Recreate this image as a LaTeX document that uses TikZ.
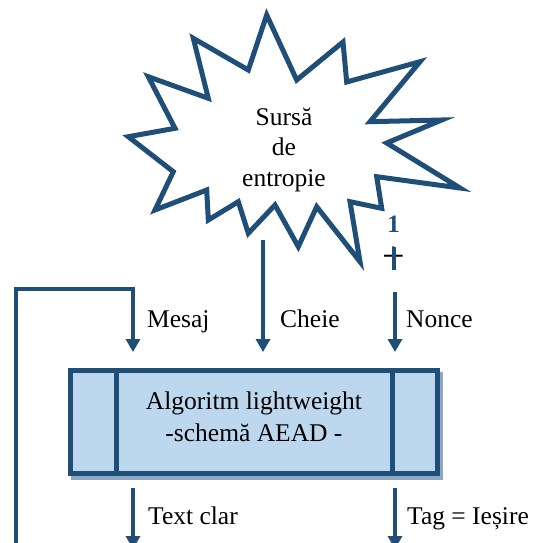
\documentclass[tikz,border=0pt]{standalone}
\usepackage{fontspec}
\setmainfont{Liberation Serif}
\usetikzlibrary{arrows.meta,positioning}
\definecolor{BleuFonce}{RGB}{31,78,121}
\definecolor{BleuClair}{RGB}{189,215,238}
\definecolor{Ombre}{RGB}{143,168,194}

\begin{document}
\begin{tikzpicture}[x=1pt,y=-1pt]
  \tikzset{FlecheStyle/.style = {draw           = BleuFonce,
                                 line width     = 4pt,
                                 line join      = miter,
                                 -{Triangle[width=14pt,length=13pt]}},
           TexteStyle/.style  = {font           = \fontsize{25.5}{31}\selectfont,
                                 inner sep      = 0pt,
                                 anchor         = base west}}
  \useasboundingbox (0,0) rectangle (537,543);
	%%% SOURCE D'ENTROPIE %%%
	\draw[BleuFonce, line width=5pt, line join=miter, fill=white]
	  (266.7,15) -- (296.7,80) -- (343,42) -- (346.7,82) -- (420,61.7)
	  -- (370,121.7) -- (441.7,120) -- (386.7,143) -- (460,188)
	  -- (376.7,176.7) -- (381.7,208.3) -- (350,201.7) -- (360,261.7)
	  -- (316.7,206.7) -- (298.3,246.7) -- (275,205) -- (248.3,233.3)
	  -- (238.3,201.7) -- (208.3,220) -- (206.7,190) -- (155,210)
	  -- (173.3,171.7) -- (128.3,136.7) -- (175,128.3) -- (148.3,76.7)
	  -- (208.3,98.3) -- (193.3,38.3) -- (248.3,70) -- cycle;
	\node[align=center, font=\fontsize{25.5}{30.5}\selectfont, inner sep=0pt](src) at (284,150){Sursă\\de\\entropie};
	%%% COMPTEUR %%%
	\node[text=BleuFonce, font=\bfseries\fontsize{25}{25}\selectfont, inner sep=0pt](un) at (393.5,224){1};
	\node[font=\fontsize{40}{40}\selectfont, inner sep=0pt](plus) at (394,258.5){+};
	\draw[BleuFonce, line width=4pt] (393.5,247) -- (393.5,270);
	%%% ALGORITHME %%%
	\fill[Ombre] (70.5,372) rectangle (442.5,480);
	\node[draw=BleuFonce, fill=BleuClair, line width=5pt, outer sep=0pt,
	      minimum width=367pt, minimum height=103pt](alg) at (254,421.5){};
	\draw[BleuFonce, line width=5pt] ([xshift=45.5pt]alg.north west) -- ([xshift=45.5pt]alg.south west);
	\draw[BleuFonce, line width=5pt] ([xshift=-45.5pt]alg.north east) -- ([xshift=-45.5pt]alg.south east);
	\node[align=center, font=\fontsize{25.5}{32}\selectfont, inner sep=0pt, yshift=4.5pt](algtxt) at (alg){Algoritm lightweight\\-schemă AEAD -};
	%%% ENTREES %%%
	\coordinate (boucle) at (16,548);
	\coordinate (mesajH) at (133,289);
	\coordinate (mesajB) at (133,352);
	\coordinate (cheieH) at (263,240);
	\coordinate (cheieB) at (263,352);
	\coordinate (nonceH) at (395,292);
	\coordinate (nonceB) at (395,352);
	\draw[FlecheStyle] (boucle) |- (mesajH) -- (mesajB);
	\draw[FlecheStyle] (cheieH) -- (cheieB);
	\draw[FlecheStyle] (nonceH) -- (nonceB);
	\node[TexteStyle](mesaj) at (147,327){Mesaj};
	\node[TexteStyle](cheie) at (280,327){Cheie};
	\node[TexteStyle](nonce) at (406,327){Nonce};
	%%% SORTIES %%%
	\coordinate (clarH) at (133,488);
	\coordinate (clarB) at (133,549);
	\coordinate (tagH) at (395,488);
	\coordinate (tagB) at (395,549);
	\draw[FlecheStyle] (clarH) -- (clarB);
	\draw[FlecheStyle] (tagH) -- (tagB);
	\node[TexteStyle](clar) at (148,524){Text clar};
	\node[TexteStyle](tag) at (407,524){Tag = Ieșire};
\end{tikzpicture}
\end{document}
